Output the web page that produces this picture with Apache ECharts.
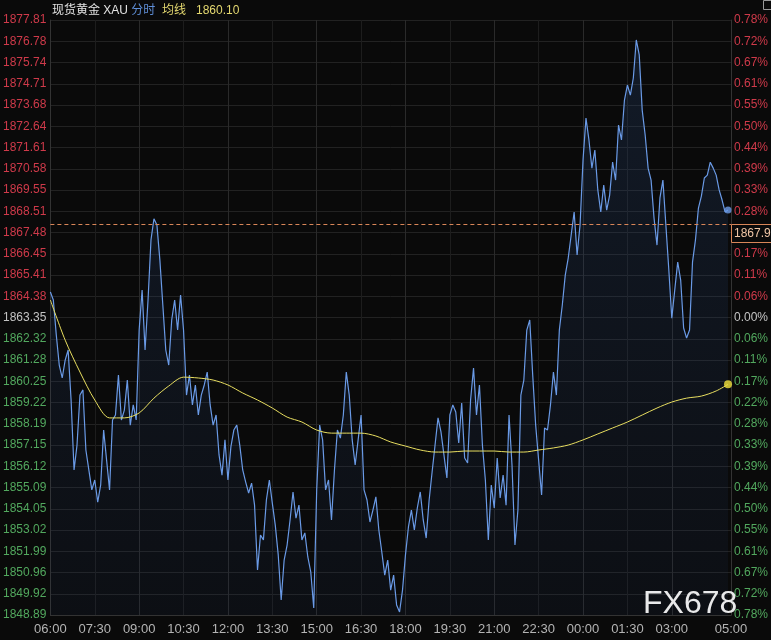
<!DOCTYPE html>
<html><head><meta charset="utf-8">
<script src="https://cdn.jsdelivr.net/npm/echarts@6/dist/echarts.min.js"></script>
<style>html,body{margin:0;padding:0;background:#0a0a0a;}#c{width:771px;height:640px;}</style>
</head><body><div id="c"></div>
<script>
// ---- axis definitions ----
const yMin = 1848.89, yMax = 1877.81, yDivisions = 28;
const leftLabels = ['1848.89','1849.92','1850.96','1851.99','1853.02','1854.05','1855.09','1856.12','1857.15','1858.19','1859.22','1860.25','1861.28','1862.32','1863.35','1864.38','1865.41','1866.45','1867.48','1868.51','1869.55','1870.58','1871.61','1872.64','1873.68','1874.71','1875.74','1876.78','1877.81'];
const rightLabels = ['0.78%','0.72%','0.67%','0.61%','0.55%','0.50%','0.44%','0.39%','0.33%','0.28%','0.22%','0.17%','0.11%','0.06%','0.00%','0.06%','0.11%','0.17%','0.22%','0.28%','0.33%','0.39%','0.44%','0.50%','0.55%','0.61%','0.67%','0.72%','0.78%'];
const xLabelMinutes = [0,90,180,270,360,450,540,630,720,810,900,990,1080,1170,1260,1380];
const xLabelTexts = ['06:00','07:30','09:00','10:30','12:00','13:30','15:00','16:30','18:00','19:30','21:00','22:30','00:00','01:30','03:00','05:00'];
const sessionMinutes = 1380;

// ---- series data ----
const priceStepMinutes = 6;
const prices = [
1864.59,1864.20,1862.50,1861.04,1860.41,1861.28,1861.77,1859.34,1855.94,1857.15,
1859.58,1859.83,1856.91,1855.94,1854.97,1855.45,1854.38,1855.21,1857.88,1856.42,
1854.97,1858.37,1858.61,1860.55,1858.37,1858.85,1860.31,1858.12,1859.10,1858.37,
1862.74,1864.69,1861.77,1864.20,1867.12,1868.15,1867.85,1866.15,1863.96,1861.77,
1861.04,1863.23,1864.20,1862.74,1864.44,1862.74,1859.58,1860.55,1859.10,1860.07,
1858.61,1859.58,1860.07,1860.70,1859.10,1858.12,1858.61,1856.67,1855.69,1857.40,
1855.45,1857.06,1857.88,1858.12,1857.15,1855.94,1855.35,1854.82,1855.30,1854.23,
1851.08,1852.78,1852.54,1854.48,1855.45,1854.33,1853.26,1851.81,1849.62,1851.56,
1852.29,1853.51,1854.87,1853.60,1854.23,1852.54,1852.88,1851.71,1850.98,1849.23,
1854.97,1858.12,1857.40,1854.97,1855.45,1853.51,1855.94,1857.88,1857.49,1858.61,
1860.70,1859.58,1857.40,1856.18,1857.40,1858.61,1854.97,1854.48,1853.41,1853.99,
1854.63,1853.02,1851.95,1850.83,1851.56,1850.10,1850.83,1849.38,1849.04,1850.10,
1851.81,1853.17,1853.99,1853.02,1854.09,1854.87,1853.51,1852.63,1854.48,1855.84,
1857.15,1858.47,1857.79,1856.67,1855.55,1858.61,1859.10,1858.76,1857.25,1859.19,
1856.52,1856.28,1859.34,1860.89,1858.61,1860.07,1857.15,1855.45,1852.54,1855.21,
1854.09,1856.52,1854.58,1855.69,1854.23,1858.61,1856.18,1852.29,1853.99,1859.58,
1860.31,1862.74,1863.23,1860.55,1858.12,1856.42,1854.72,1857.98,1857.88,1859.10,
1860.70,1859.58,1862.74,1863.96,1865.41,1866.24,1867.36,1868.48,1866.39,1867.85,
1871.00,1873.04,1871.98,1870.61,1871.49,1869.55,1868.48,1869.79,1868.57,1869.30,
1870.90,1870.03,1872.70,1871.98,1873.92,1874.65,1874.16,1874.99,1876.84,1876.11,
1873.43,1872.22,1870.61,1870.03,1868.18,1866.87,1869.16,1870.03,1867.85,1865.66,
1863.32,1864.69,1866.04,1865.17,1862.84,1862.35,1862.74,1866.04,1867.12,1868.67,
1869.25,1870.13,1870.27,1870.90,1870.61,1870.27,1869.55,1869.06,1868.48,1868.57
];
const avgMinutes = [0,30,60,90,120,150,180,210,240,270,300,330,360,390,420,450,480,510,540,570,600,630,660,690,720,750,780,810,840,870,900,930,960,990,1020,1050,1080,1110,1140,1170,1200,1230,1260,1290,1320,1350,1374];
const avgValues = [
1864.20,1862.25,1860.70,1859.34,1858.47,1858.47,1858.71,1859.43,1860.02,1860.45,
1860.41,1860.31,1860.07,1859.68,1859.34,1858.95,1858.51,1858.27,1857.88,1857.73,
1857.73,1857.73,1857.59,1857.30,1857.10,1856.91,1856.81,1856.81,1856.86,1856.86,
1856.86,1856.81,1856.81,1856.91,1857.01,1857.15,1857.40,1857.69,1857.98,1858.27,
1858.61,1858.95,1859.24,1859.43,1859.53,1859.78,1860.10
];
const markPrice = 1867.90;
const markPriceText = '1867.91';
const avgLatestText = '1860.10';
const titleMain = '现货黄金 XAU';
const titleMode = '分时';
const titleAvg = '均线';
const watermark = 'FX678';

// ---- build ----
const yStep = (yMax - yMin) / yDivisions;
const yIdx = p => (p - yMin) / yStep;
const priceData = prices.map((p, i) => [i * priceStepMinutes, yIdx(p)]);
const avgData = avgValues.map((p, i) => [avgMinutes[i], yIdx(p)]);
const lastPrice = priceData[priceData.length - 1];
const lastAvg = avgData[avgData.length - 1];

const RED = '#cf3a4a', GREEN = '#52a85e', GREY = '#c4c4c4';
const labelColor = v => v > 14 ? RED : (v < 14 ? GREEN : GREY);
const font = 'Arial, "Liberation Sans", "Noto Sans CJK SC", sans-serif';

const xSplitColors = [];
for (let i = 0; i <= 16; i++) xSplitColors.push(i === 15 ? 'rgba(0,0,0,0)' : (i % 2 === 0 ? '#2a2a2a' : '#1d1d1d'));

const chart = echarts.init(document.getElementById('c'), null, {renderer: 'canvas'});
chart.setOption({
  backgroundColor: '#0a0a0a',
  animation: false,
  textStyle: {fontFamily: font},
  title: {
    left: 52, top: 5, padding: 0,
    text: '{w|' + titleMain + '} {b|' + titleMode + '}  {y|' + titleAvg + '}   {y|' + avgLatestText + '}',
    textStyle: {
      fontSize: 12, fontWeight: 'normal',
      rich: {
        w: {color: '#e2e2e2', fontSize: 12, fontFamily: font},
        b: {color: '#5f8fd8', fontSize: 12, fontFamily: font},
        y: {color: '#e4d870', fontSize: 12, fontFamily: font}
      }
    }
  },
  grid: {left: 50, right: 40, top: 20, bottom: 25, containLabel: false},
  xAxis: {
    type: 'value', min: 0, max: sessionMinutes, interval: 90,
    axisLine: {show: true, lineStyle: {color: '#333'}},
    axisTick: {show: false},
    axisLabel: {
      color: '#b4b4b4', fontSize: 13, margin: 8, fontFamily: font,
      showMinLabel: true, showMaxLabel: true,
      formatter: v => { const k = xLabelMinutes.indexOf(v); return k >= 0 ? xLabelTexts[k] : ''; }
    },
    splitLine: {show: true, lineStyle: {color: xSplitColors, width: 1}}
  },
  yAxis: [{
    type: 'value', min: 0, max: yDivisions, interval: 1, position: 'left',
    axisLine: {show: true, lineStyle: {color: '#333'}},
    axisTick: {show: false},
    axisLabel: {fontSize: 12, margin: 4, fontFamily: font, color: v => labelColor(v), formatter: v => leftLabels[Math.round(v)]},
    splitLine: {show: true, lineStyle: {color: '#222', width: 1}}
  }, {
    type: 'value', min: 0, max: yDivisions, interval: 1, position: 'right',
    axisLine: {show: true, lineStyle: {color: '#333'}},
    axisTick: {show: false},
    axisLabel: {fontSize: 12, margin: 3, fontFamily: font, color: v => labelColor(v), formatter: v => rightLabels[Math.round(v)]},
    splitLine: {show: false}
  }],
  series: [{
    type: 'line', data: priceData, showSymbol: false, symbol: 'none',
    lineStyle: {color: '#6a9ae6', width: 1.2},
    areaStyle: {origin: 'start', color: new echarts.graphic.LinearGradient(0, 0, 0, 1, [
      {offset: 0, color: 'rgba(45,80,135,0.34)'}, {offset: 1, color: 'rgba(30,50,90,0.18)'}])},
    markLine: {
      silent: true, symbol: 'none', label: {show: false},
      lineStyle: {color: '#d98658', type: [4, 3], width: 1},
      data: [{yAxis: yIdx(markPrice)}]
    },
    z: 3
  }, {
    type: 'line', data: avgData, showSymbol: false, symbol: 'none', smooth: 0.3,
    lineStyle: {color: '#e8de60', width: 1}, z: 4
  }, {
    type: 'scatter', data: [lastAvg], symbolSize: 8, itemStyle: {color: '#f2e23c'}, z: 6
  }, {
    type: 'scatter', data: [lastPrice], symbolSize: 7, itemStyle: {color: '#6a9ae6'}, z: 6
  }]
});

const py = chart.convertToPixel({yAxisIndex: 0}, yIdx(markPrice));
chart.setOption({
  graphic: [
    {type: 'rect', z: 100, shape: {x: 731.5, y: Math.round(py) + 0.5, width: 50, height: 18},
     style: {fill: '#0a0a0a', stroke: '#d98658', lineWidth: 1}},
    {type: 'text', z: 101, x: 734, y: Math.round(py) + 10,
     style: {text: markPriceText, fill: '#f0c6a6', font: '12px ' + font, textVerticalAlign: 'middle', verticalAlign: 'middle'}},
    {type: 'text', z: 90, x: 643, y: 604,
     style: {text: watermark, fill: 'rgba(245,245,245,0.95)', font: '32px ' + font, verticalAlign: 'middle', textVerticalAlign: 'middle'}},
    {type: 'rect', z: 90, shape: {x: 763.5, y: 0.5, width: 8, height: 9},
     style: {fill: 'none', stroke: '#999', lineWidth: 1}}
  ]
});
</script></body></html>
